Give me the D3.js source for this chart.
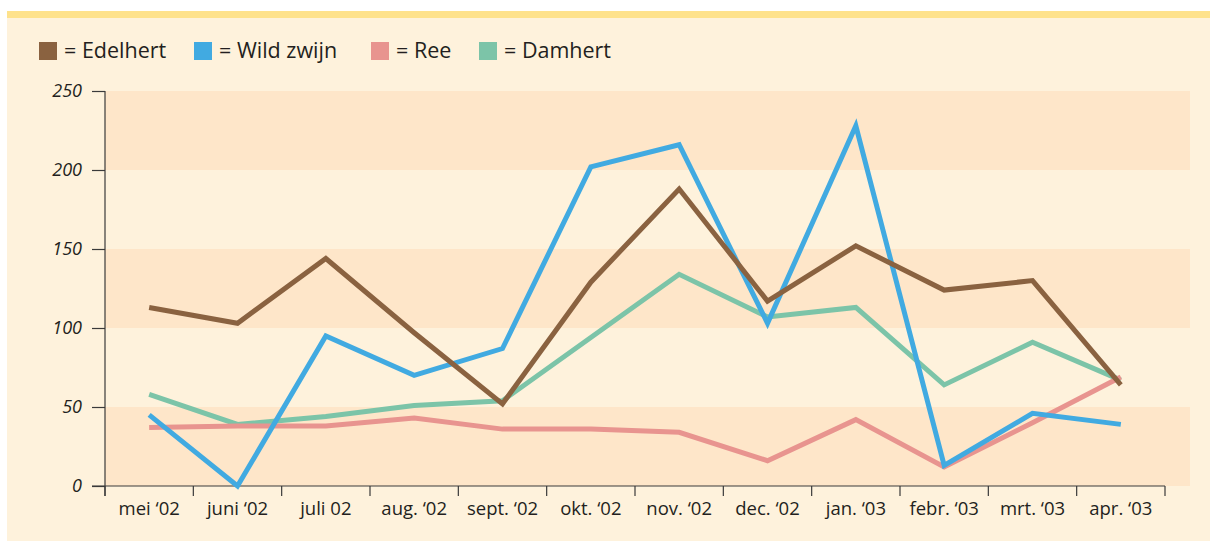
<!DOCTYPE html>
<html><head><meta charset="utf-8">
<script src="https://cdn.jsdelivr.net/npm/d3@7"></script>
<style>body{margin:0;background:#fff}svg{display:block}</style>
</head><body>
<svg id="c" width="1210" height="541"></svg>
<script>
const months = ["mei \u201802","juni \u201802","juli 02","aug. \u201802","sept. \u201802","okt. \u201802","nov. \u201802","dec. \u201802","jan. \u201803","febr. \u201803","mrt. \u201803","apr. \u201803"];
const edelhert = [113,103,144,97,52,129,188,117,152,124,130,64];
const wildZwijn = [45,0,95,70,87,202,216,103,228,13,46,39];
const ree = [37,38,38,43,36,36,34,16,42,12,40,69];
const damhert = [58,39,44,51,54,94,134,107,113,64,91,67];
const yTicks = [0,50,100,150,200,250];
const seriesNames = ["Edelhert","Wild zwijn","Ree","Damhert"];
const seriesColors = ["#8a6240","#41aae1","#e8948f","#7cc4a8"];

const svg = d3.select("#c");
const font = "'Open Sans', sans-serif";
// panel
svg.append("rect").attr("x",7).attr("y",17).attr("width",1203).attr("height",524).attr("fill","#fef2dc");
svg.append("rect").attr("x",7).attr("y",11).attr("width",1203).attr("height",7).attr("fill","#fee28c");

const x0 = 105, x1 = 1165;
const x = d3.scaleBand().domain(months).range([x0,x1]);
const y = d3.scaleLinear().domain([0,250]).range([486,91]);

// bands
const bandEnd = 1190;
for (let i=0;i<yTicks.length-1;i+=2){
  svg.append("rect").attr("x",x0).attr("y",y(yTicks[i+1])).attr("width",bandEnd-x0)
    .attr("height",y(yTicks[i])-y(yTicks[i+1])).attr("fill","#fee6c9");
}

// axes
const yAxis = d3.axisLeft(y).tickValues(yTicks).tickSize(13).tickPadding(10);
const gy = svg.append("g").attr("transform",`translate(${x0},0)`).call(yAxis);
gy.select(".domain").remove();
gy.append("line").attr("x1",0).attr("x2",0).attr("y1",91).attr("y2",496).attr("stroke","#3a3a3a").attr("stroke-width",1.2);
gy.selectAll(".tick line").attr("stroke","#3a3a3a").attr("stroke-width",1.2);
gy.selectAll(".tick text").attr("font-family",font).attr("font-style","italic").attr("font-size",18).attr("fill","#231f20");

const xAxis = d3.axisBottom(x).tickSize(0).tickPadding(16);
const gx = svg.append("g").attr("transform",`translate(0,486)`).call(xAxis);
gx.select(".domain").remove();
gx.append("line").attr("x1",92).attr("x2",x1).attr("y1",0).attr("y2",0).attr("stroke","#3a3a3a").attr("stroke-width",1.2);
const bounds = months.map(m=>x(m)).concat([x1]);
gx.selectAll(".bt").data(bounds).enter().append("line").attr("class","bt")
  .attr("x1",d=>d).attr("x2",d=>d).attr("y1",0).attr("y2",10).attr("stroke","#3a3a3a").attr("stroke-width",1.2);
gx.selectAll(".tick text").attr("font-family",font).attr("font-size",18.5).attr("fill","#231f20");

// lines
const line = d3.line().x((d,i)=>x(months[i])+x.bandwidth()/2).y(d=>y(d));
const data = [damhert, ree, wildZwijn, edelhert];
const cols = [seriesColors[3],seriesColors[2],seriesColors[1],seriesColors[0]];
data.forEach((s,k)=>{
  svg.append("path").datum(s).attr("d",line).attr("fill","none").attr("stroke",cols[k])
    .attr("stroke-width",5).attr("stroke-linejoin","miter").attr("stroke-linecap","butt");
});

// legend
const legX = [39,194,371,479];
seriesNames.forEach((n,i)=>{
  svg.append("rect").attr("x",legX[i]).attr("y",42).attr("width",18).attr("height",18).attr("fill",seriesColors[i]);
  svg.append("text").attr("x",legX[i]+25).attr("y",57.5).attr("font-family",font).attr("font-size",21.5)
    .attr("fill","#231f20").text("= "+n);
});
</script>
</body></html>
